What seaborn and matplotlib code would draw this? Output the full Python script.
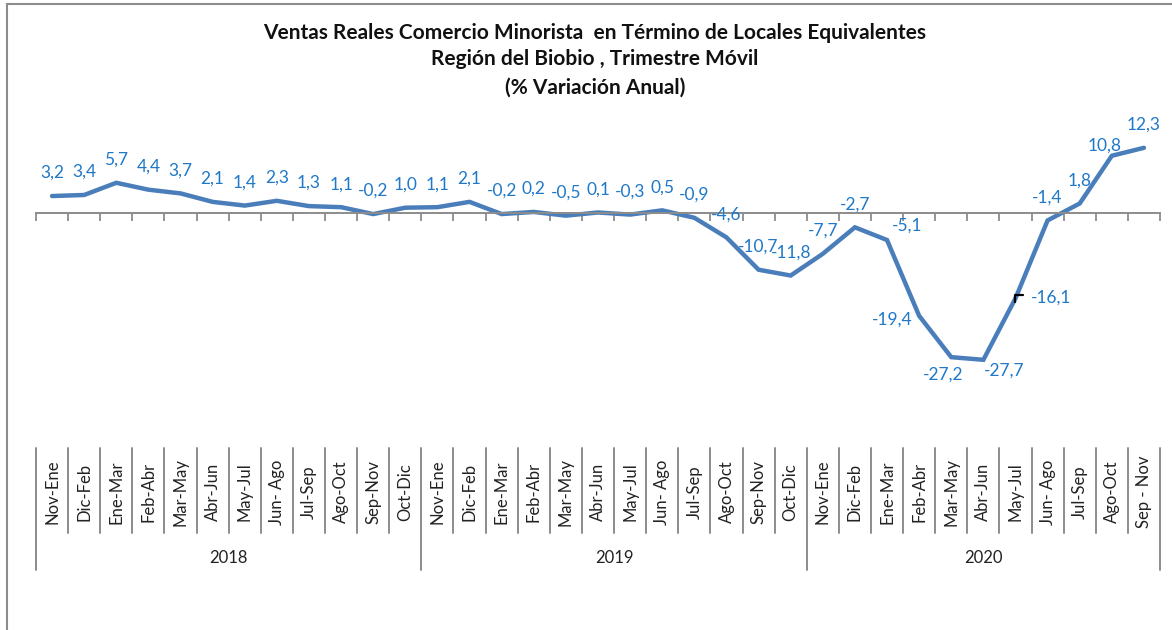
"""Ventas reales comercio minorista, Región del Biobío: trimestre móvil, % variación anual."""

import matplotlib

matplotlib.use("Agg")
import matplotlib.pyplot as plt
import matplotlib.transforms as mtransforms
import numpy as np
import pandas as pd
import seaborn as sns
from matplotlib.lines import Line2D
from matplotlib.patches import Rectangle

TITLE_LINES = [
    "Ventas Reales Comercio Minorista  en Término de Locales Equivalentes",
    "Región del Biobio , Trimestre Móvil",
    "(% Variación Anual)",
]

YEARS = ["2018", "2019", "2020"]
PERIODS_FULL = [
    "Nov-Ene", "Dic-Feb", "Ene-Mar", "Feb-Abr", "Mar-May", "Abr-Jun",
    "May-Jul", "Jun- Ago", "Jul-Sep", "Ago-Oct", "Sep-Nov", "Oct-Dic",
]
PERIODS_2020 = PERIODS_FULL[:10] + ["Sep - Nov"]
PERIODS_BY_YEAR = [PERIODS_FULL, PERIODS_FULL, PERIODS_2020]

VALUES = [
    3.2, 3.4, 5.7, 4.4, 3.7, 2.1, 1.4, 2.3, 1.3, 1.1, -0.2, 1.0,
    1.1, 2.1, -0.2, 0.2, -0.5, 0.1, -0.3, 0.5, -0.9, -4.6, -10.7, -11.8,
    -7.7, -2.7, -5.1, -19.4, -27.2, -27.7, -16.1, -1.4, 1.8, 10.8, 12.3,
]

LINE_COLOR = "#4A7EBB"
LABEL_COLOR = "#1F78C8"
AXIS_GRAY = "#8C8C8C"

# label offsets (pixels) where Excel did not put the label straight above
LABEL_OFFSETS = {
    26: (20, 14),
    27: (-27, -4),
    28: (-8, -17),
    29: (21, -11),
    30: (36, 1),
    33: (-7, 10),
}
DEFAULT_OFFSET = (0, 23)
LEADER_IDX = 30  # the -16,1 label has a tiny leader-line stub

W, H = 1172, 630


def fy(ypix: float) -> float:
    return 1 - ypix / H


def main() -> None:
    sns.set_theme(style="white")
    plt.rcParams["font.family"] = ["Lato", "DejaVu Sans"]

    rows = []
    for year, periods in zip(YEARS, PERIODS_BY_YEAR):
        for p in periods:
            rows.append({"year": year, "periodo": p})
    df = pd.DataFrame(rows)
    df["valor"] = VALUES
    df["pos"] = np.arange(len(df))
    n = len(df)

    fig = plt.figure(figsize=(W / 100, H / 100), dpi=100)
    ax = fig.add_axes([36 / W, fy(425), (1160 - 36) / W, (425 - 107) / H])

    sns.lineplot(data=df, x="pos", y="valor", ax=ax, color=LINE_COLOR,
                 linewidth=3.2, solid_joinstyle="miter")

    ax.set_xlim(-0.5, n - 0.5)
    ax.set_ylim(-40, 20)
    ax.yaxis.set_visible(False)
    for side in ("left", "right", "top"):
        ax.spines[side].set_visible(False)
    ax.spines["bottom"].set_position(("data", 0))
    ax.spines["bottom"].set_color(AXIS_GRAY)
    ax.spines["bottom"].set_linewidth(1.4)
    ax.set_xticks(np.arange(-0.5, n, 1))
    ax.set_xticklabels([])
    ax.tick_params(axis="x", bottom=True, length=6, width=1.3,
                   color=AXIS_GRAY, direction="out")
    ax.set_xlabel("")
    ax.set_ylabel("")

    for i, v in enumerate(df["valor"]):
        dx, dy = LABEL_OFFSETS.get(i, DEFAULT_OFFSET)
        ax.annotate(f"{v:.1f}".replace(".", ","), (i, v), xytext=(dx, dy),
                    textcoords="offset pixels", ha="center", va="center",
                    fontsize=12.5, color=LABEL_COLOR)

    # leader stub next to the -16,1 point
    stub_tr = mtransforms.IdentityTransform() + mtransforms.ScaledTranslation(
        LEADER_IDX, VALUES[LEADER_IDX], ax.transData)
    fig.add_artist(Line2D([8, 0, 0], [3, 3, -4], transform=stub_tr,
                          color="black", lw=1.6))

    # multi-level category axis below the plot
    trans = mtransforms.blended_transform_factory(ax.transData, fig.transFigure)
    group_edges = {0, 12, 24, n}
    for k in range(n + 1):
        bottom = 570 if k in group_edges else 533
        fig.add_artist(Line2D([k - 0.5, k - 0.5], [fy(448), fy(bottom)],
                              transform=trans, color=AXIS_GRAY, lw=1.4))
    for i, p in enumerate(df["periodo"]):
        fig.text(i, fy(492), p, transform=trans, rotation=90, ha="center",
                 va="center", fontsize=12, color="#222222")
    start = 0
    for year, periods in zip(YEARS, PERIODS_BY_YEAR):
        mid = start + (len(periods) - 1) / 2
        fig.text(mid, fy(558), year, transform=trans, ha="center", va="center",
                 fontsize=12, color="#222222")
        start += len(periods)

    for ypix, line in zip((33, 59, 88), TITLE_LINES):
        fig.text(595 / W, fy(ypix), line, ha="center", va="center",
                 fontsize=15, fontweight="bold", color="#111111")

    fig.add_artist(Rectangle((7 / W, -0.1), 1.2, fy(4) + 0.1,
                             transform=fig.transFigure, fill=False,
                             edgecolor=AXIS_GRAY, lw=1.5))

    fig.savefig("out.png", dpi=100)
    plt.close(fig)


if __name__ == "__main__":
    main()
